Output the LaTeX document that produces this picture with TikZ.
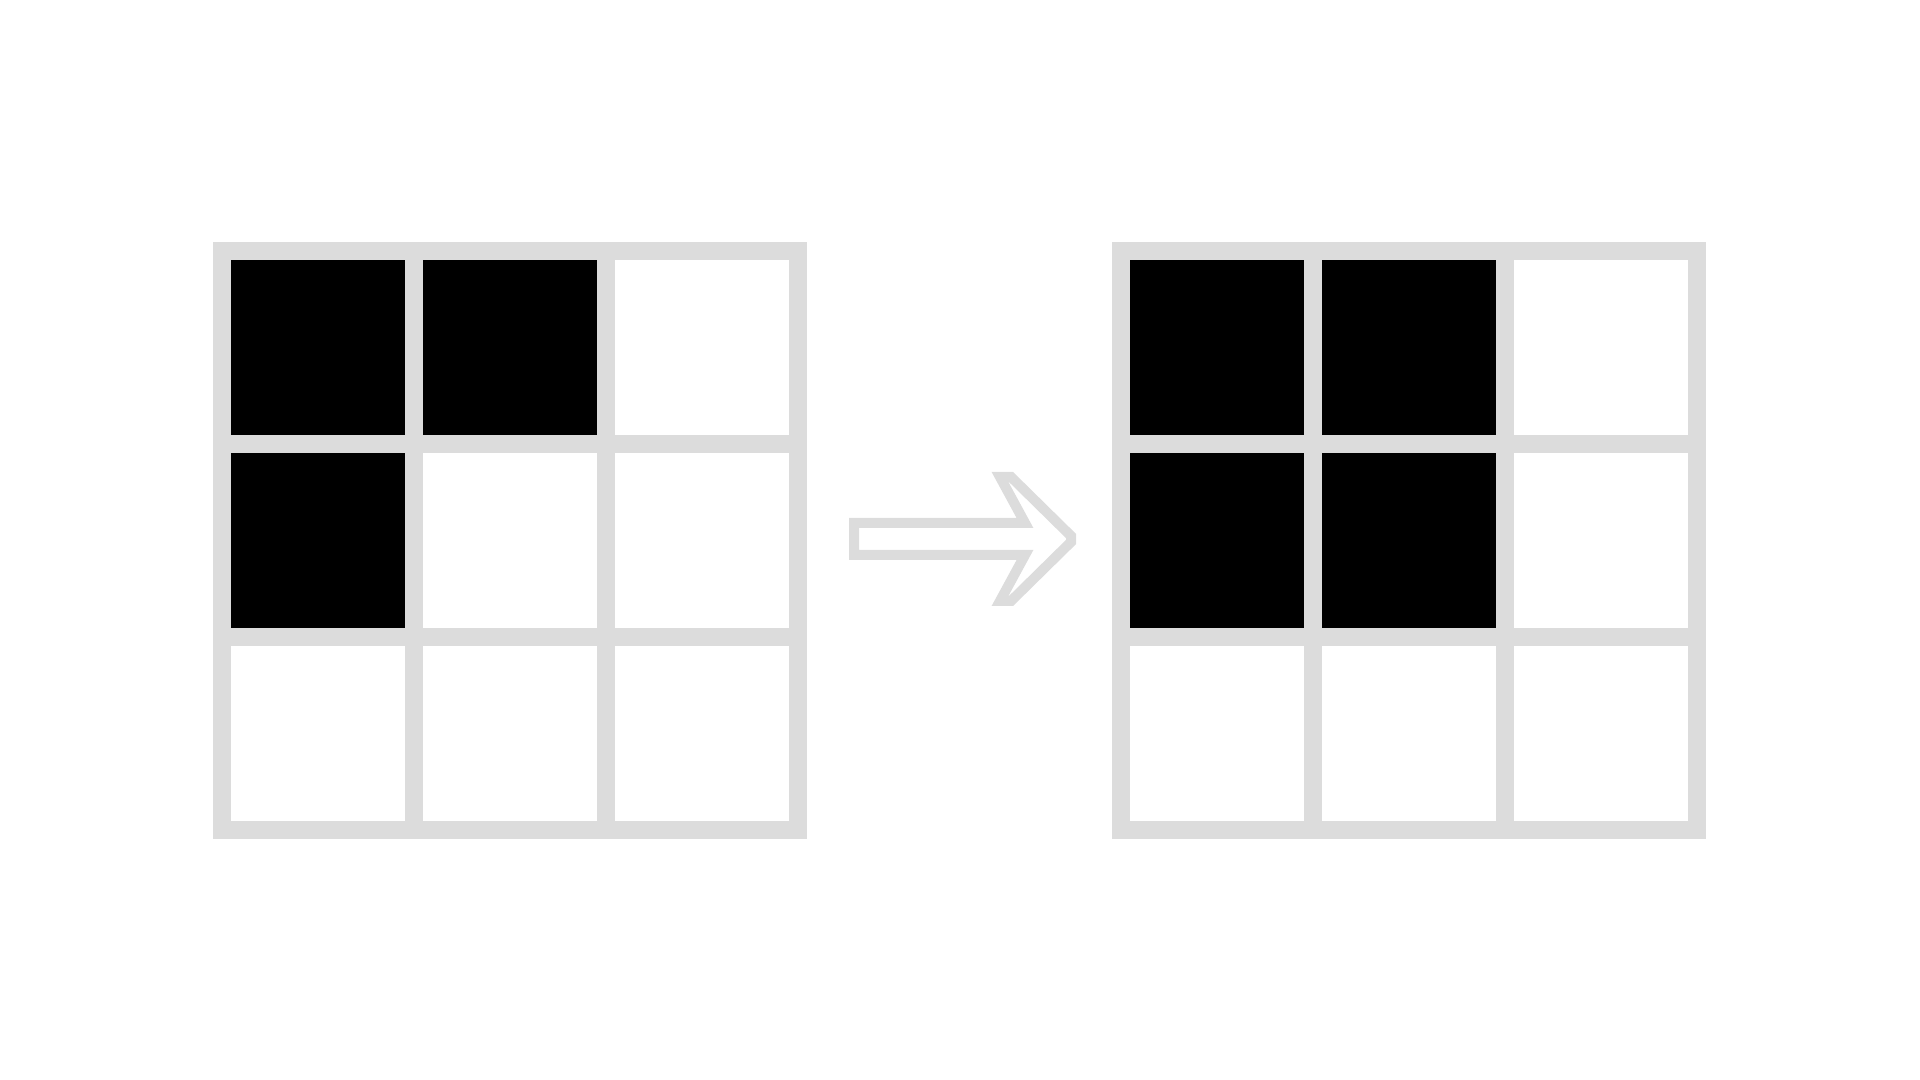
\documentclass[tikz,border=0pt]{standalone}
\usepackage{tikz}
\definecolor{gridgray}{RGB}{220,220,220}
\tikzset{
	cellline/.style={draw=gridgray, line width=0.18cm},
	arrowline/.style={draw=gridgray, line width=0.1cm, line join=miter},
	blackcell/.style={fill=black}
}

\begin{document}
\begin{tikzpicture}
		[x=0.01cm, y=-0.01cm]
		
		\useasboundingbox (0, 0) rectangle (1920, 1080);
		
		% left grid ----------------------------------------------
		\begin{scope}[shift={(222, 251)}]
		\fill[blackcell]	(0, 0) rectangle (192, 193);
		\fill[blackcell]	(192, 0) rectangle (384, 193);
		\fill[blackcell]	(0, 193) rectangle (192, 386);
		
		\draw[cellline]	(0, 0) rectangle (576, 579);
		\foreach \i in {1, 2} {
			\draw[cellline]	(\i*192, 0) -- (\i*192, 579);
			\draw[cellline]	(0, \i*193) -- (576, \i*193);
		}
		\end{scope}
		
		% arrow --------------------------------------------------
		\draw[arrowline]	(854, 523) -- (1025, 523) -- (1000, 477) -- (1011, 477)
		-- (1071, 536) -- (1071, 542) -- (1011, 601) -- (1000, 601)
		-- (1025, 555) -- (854, 555) -- cycle;
		
		% right grid ---------------------------------------------
		\begin{scope}[shift={(1121, 251)}]
		\fill[blackcell]	(0, 0) rectangle (192, 193);
		\fill[blackcell]	(192, 0) rectangle (384, 193);
		\fill[blackcell]	(0, 193) rectangle (192, 386);
		\fill[blackcell]	(192, 193) rectangle (384, 386);
		
		\draw[cellline]	(0, 0) rectangle (576, 579);
		\foreach \i in {1, 2} {
			\draw[cellline]	(\i*192, 0) -- (\i*192, 579);
			\draw[cellline]	(0, \i*193) -- (576, \i*193);
		}
		\end{scope}
\end{tikzpicture}
\end{document}
